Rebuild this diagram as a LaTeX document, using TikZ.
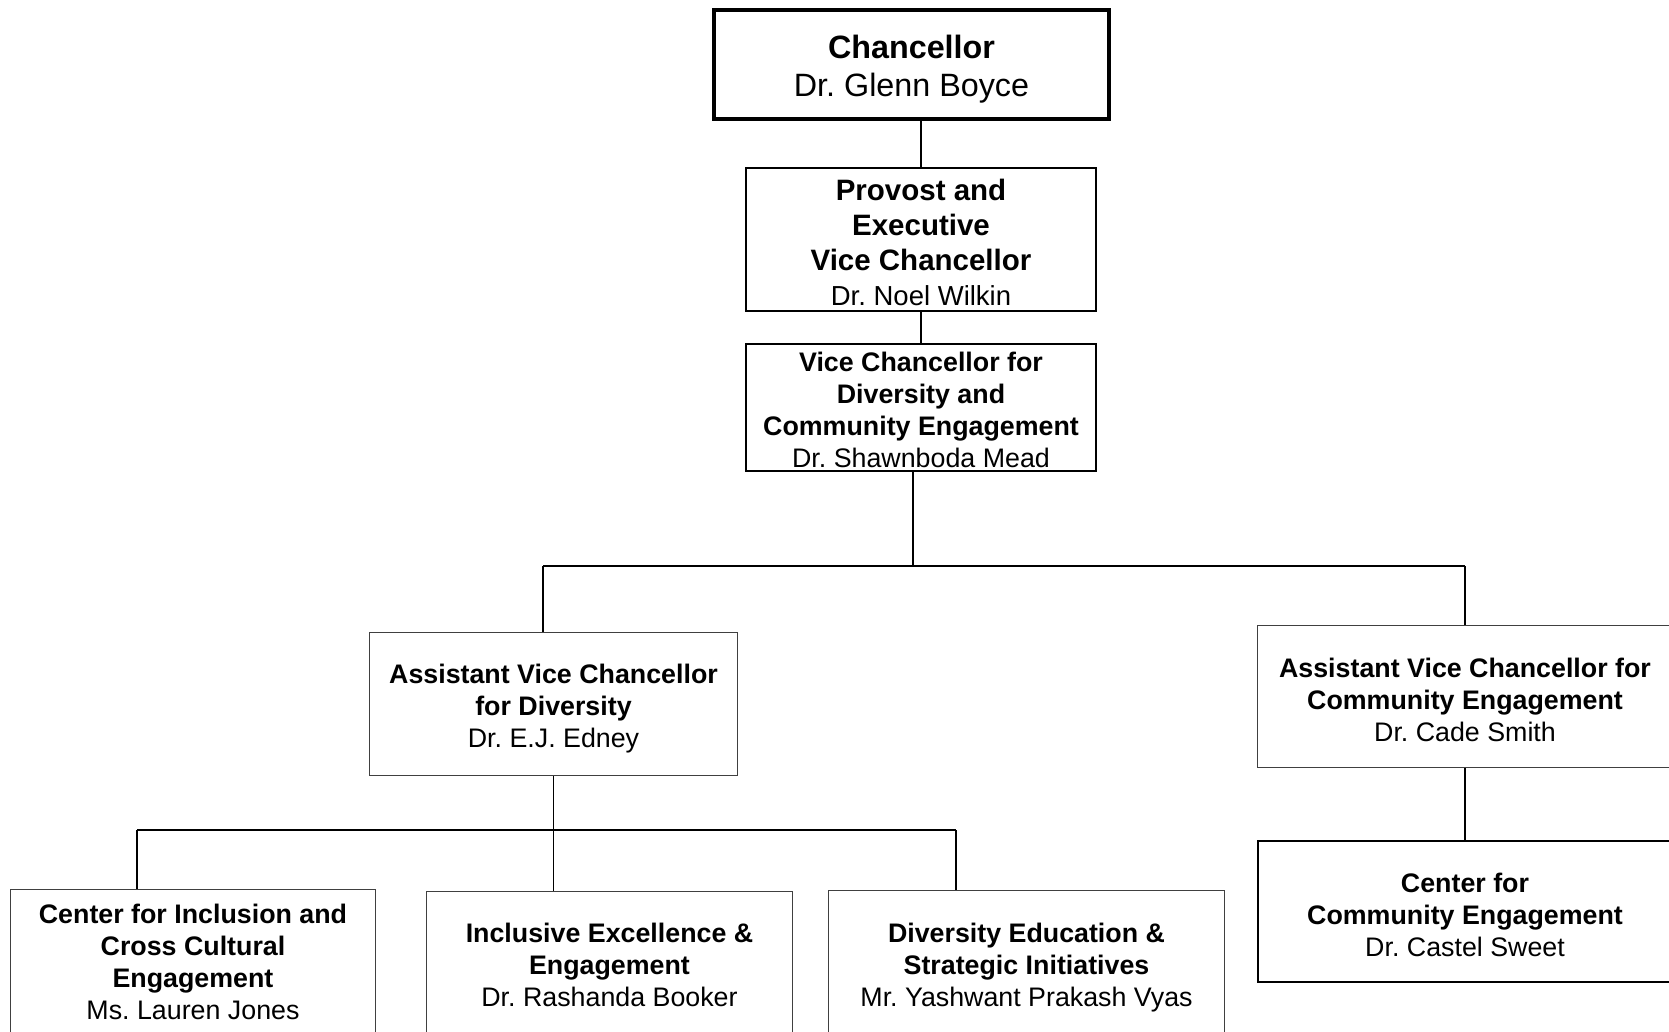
\documentclass[tikz,border=0pt]{standalone}
\usepackage{fontspec}
\setmainfont{Liberation Sans}
\newcommand\tpstrut[1]{\rule{0pt}{#1pt}}
\begin{document}
\frenchspacing
\begin{tikzpicture}[x=1pt,y=-1pt,
  box/.style={draw=black, rectangle, inner sep=0pt, align=center, text=black, fill=white},
  thickbox/.style={box, line width=4pt},
  midbox/.style={box, line width=2pt},
  lightbox/.style={box, line width=1.3pt, draw=black!75},
  midfont/.style={font=\frenchspacing\fontsize{26.8}{32}\selectfont},
  conn/.style={draw=black, line width=1.8pt}]
\useasboundingbox (0,0) rectangle (1669,1031);
\clip (0,0) rectangle (1669,1031);

% boxes
\node[thickbox, minimum width=395, minimum height=109,
      font=\frenchspacing\fontsize{32.3}{38}\selectfont] (chan) at (911.5,64.5)
  {\tpstrut{32}\textbf{Chancellor}\\Dr. Glenn Boyce};
\node[midbox, minimum width=350, minimum height=143,
      font=\frenchspacing\fontsize{29.5}{35}\selectfont] (prov) at (921,239.5)
  {\tpstrut{28}\textbf{Provost and}\\\textbf{Executive}\\\textbf{Vice Chancellor}\\{\fontsize{27.5}{35}\selectfont Dr. Noel Wilkin}};
\node[midbox, minimum width=350, minimum height=127, midfont] (vc) at (921,407.5)
  {\tpstrut{24}\textbf{Vice Chancellor for}\\\textbf{Diversity and}\\\textbf{Community Engagement}\\Dr. Shawnboda Mead};
\node[lightbox, minimum width=368, minimum height=143, midfont] (avcd) at (553.5,704)
  {\tpstrut{28}\textbf{Assistant Vice Chancellor}\\\textbf{for Diversity}\\Dr. E.J. Edney};
\node[lightbox, minimum width=415, minimum height=142, midfont] (avcc) at (1465,696.5)
  {\tpstrut{26.5}\textbf{Assistant Vice Chancellor for}\\\textbf{Community Engagement}\\Dr. Cade Smith};
\node[midbox, minimum width=414, minimum height=141, midfont] (cce) at (1465,911.5)
  {\tpstrut{26.5}\textbf{Center for}\\\textbf{Community Engagement}\\Dr. Castel Sweet};
\node[lightbox, minimum width=365, minimum height=145, midfont] (cicce) at (193,962)
  {\textbf{Center for Inclusion and}\\\textbf{Cross Cultural}\\\textbf{Engagement}\\Ms. Lauren Jones};
\node[lightbox, minimum width=366, minimum height=147, midfont] (iee) at (609.5,965)
  {\textbf{Inclusive Excellence \&}\\\textbf{Engagement}\\Dr. Rashanda Booker};
\node[lightbox, minimum width=396, minimum height=145, midfont] (desi) at (1026.5,963)
  {\tpstrut{28}\textbf{Diversity Education \&}\\\textbf{Strategic Initiatives}\\Mr. Yashwant Prakash Vyas};

% junction points
\coordinate (j1) at (913,566);
\coordinate (hL) at (543,566);
\coordinate (hR) at (1465,566);
\coordinate (bL) at (137,830);
\coordinate (bR) at (956,830);

% connectors
\draw[conn] (prov.north) -- (prov.north |- chan.south);
\draw[conn] (prov.south) -- (vc.north);
\draw[conn] (j1 |- vc.south) -- (j1);
\draw[conn] (hL) -- (hR);
\draw[conn] (hL) -- (hL |- avcd.north);
\draw[conn] (hR) -- (avcc.north);
\draw[conn] (avcc.south) -- (cce.north);
\draw[conn] (avcd.south) -- (avcd.south |- iee.north);
\draw[conn] (bL) -- (bR);
\draw[conn] (bL) -- (bL |- cicce.north);
\draw[conn] (bR) -- (bR |- desi.north);
\end{tikzpicture}
\end{document}
